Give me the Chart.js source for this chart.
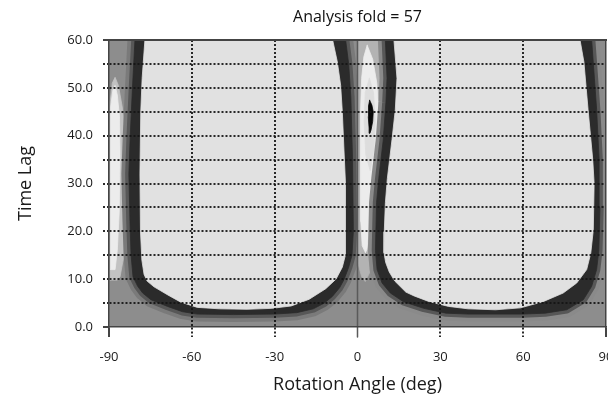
<!DOCTYPE html>
<html>
<head>
<meta charset="utf-8">
<script src="https://cdn.jsdelivr.net/npm/chart.js@4.4.1/dist/chart.umd.min.js"></script>
<style>
  html, body { margin: 0; padding: 0; background: #fff; }
</style>
</head>
<body>
<canvas id="myChart" width="608" height="398"></canvas>
<script>
// axis ticks
const xTicks = [-90, -60, -30, 0, 30, 60, 90];
const yTicks = [0, 5, 10, 15, 20, 25, 30, 35, 40, 45, 50, 55, 60];
const yTickLabels = ['0.0', '', '10.0', '', '20.0', '', '30.0', '', '40.0', '', '50.0', '', '60.0'];

// contour regions, [angle, lag] pairs
const baseField = [[-95, -5], [95, -5], [95, 65], [-95, 65], [-95, -5]];

const leftPatch = [[-89.6, 9.8], [-89.6, 47], [-88.8, 51], [-87.8, 52.2], [-86.6, 50.5], [-85.2, 46], [-84, 40],
  [-83.2, 32], [-83, 24], [-83, 18], [-84.4, 15.5], [-86, 10.5], [-87, 9.8], [-89.6, 9.8]];
const leftCore = [[-89.4, 12], [-89.4, 46], [-88.6, 49.5], [-87.8, 50.5], [-87, 48.5], [-86.2, 44], [-86, 36],
  [-86.3, 24], [-87, 16], [-87.8, 12], [-89.4, 12]];

const leftBasinDark = [[-80.6, 64], [-80.6, 60], [-81.5, 50], [-82.3, 40], [-82.8, 32], [-82.4, 22], [-82, 15],
  [-81.3, 10.5], [-79.6, 8.5], [-77.8, 7.1], [-74.8, 5.7], [-68.8, 4.3], [-63.4, 3.2], [-58, 2.7], [-45, 2.6],
  [-30, 2.7], [-22, 3.0], [-16, 3.8], [-12, 5.0], [-9.1, 6.4], [-6.5, 8.2], [-4.9, 9.9], [-3.2, 12.5], [-2.0, 15],
  [-1.5, 20], [-1.8, 35], [-2.4, 48], [-3.2, 55], [-4.3, 60], [-4.6, 64], [-80.6, 64]];
const leftBasin = [[-77, 64], [-77, 60], [-78, 52], [-78.5, 45], [-78.8, 32], [-78.6, 20], [-78.1, 14], [-77.3, 11],
  [-76.2, 9.6], [-73.7, 8.4], [-68.7, 6.7], [-64, 5.2], [-58, 4.1], [-50, 3.8], [-40, 3.7], [-31, 3.9], [-24, 4.4],
  [-17.5, 5.8], [-11.5, 8], [-7.8, 10], [-5.5, 12.5], [-4.4, 15], [-4.2, 20], [-4.5, 30], [-4.9, 37], [-5.5, 45],
  [-6.1, 50.5], [-7.3, 55.4], [-9, 60], [-9.5, 64], [-77, 64]];

const midPatch = [[0.3, 64], [0.3, 13], [1.5, 10.5], [2.8, 9.5], [4.5, 11.5], [6, 16], [7.5, 25], [9, 35],
  [10, 45], [10, 64], [0.3, 64]];
const midCore = [[3.5, 58.9], [5.5, 56], [7, 51], [7.6, 46], [7.4, 40], [6.5, 32.7], [5.2, 26], [4.1, 20],
  [3.4, 16.2], [2.9, 15.5], [1.7, 17], [1.2, 22], [1.1, 32], [1.1, 45], [1.5, 52], [2.3, 56.5], [3.5, 58.9]];
const midInner = [[4.3, 52], [5.8, 49], [6.4, 43], [6.0, 37], [4.6, 32.7], [3.0, 36], [2.4, 43], [2.8, 49], [4.3, 52]];
const blackSpot = [[4.4, 47.4], [5.2, 46.4], [5.7, 45], [5.5, 43], [4.9, 41.2], [4.5, 40.5], [4.2, 41.6], [3.9, 44],
  [4.0, 46.2], [4.4, 47.4]];

const rightBasinDark = [[10.1, 64], [10.1, 60], [10.7, 52], [10.3, 47], [9.3, 39], [7.7, 31], [6.9, 26], [6.5, 16],
  [7.1, 12], [8.9, 9.2], [11.9, 7.1], [16.6, 5.3], [24, 3.9], [32, 2.9], [40, 2.7], [60, 2.7], [68, 2.9],
  [75.8, 3.6], [81.8, 5.7], [84.8, 8.5], [86.6, 12], [87.4, 16], [87.8, 25], [87.5, 35], [86.6, 45.5],
  [85.8, 52], [84.8, 60], [84.6, 64], [10.1, 64]];
const rightBasin = [[13.2, 64], [13.2, 60], [14.3, 52], [13.7, 45.5], [12.5, 39.2], [10.8, 31], [10.1, 26],
  [9.7, 20], [9.6, 15.5], [10.2, 13.5], [11.5, 11.5], [13.5, 9.6], [17.5, 7.3], [20.5, 6.5], [26, 5.3], [33, 4.3],
  [40, 3.8], [50, 3.6], [59, 4.0], [67.2, 5.3], [74.5, 7.1], [79.4, 9.2], [83, 12], [84.5, 15.5], [85.4, 20.3],
  [85.7, 30], [85.2, 35], [83.5, 45.5], [82, 55.4], [80.6, 60], [80.3, 64], [13.2, 64]];

const zeroLine = [[0, -2.1], [0, 60]];

const fontFamily = "'Open Sans', 'DejaVu Sans', sans-serif";
const dotColor = 'rgba(20,20,20,0.9)';

function poly(points, opts) {
  return Object.assign({
    data: points.map(p => ({ x: p[0], y: p[1] })),
    pointRadius: 0,
    tension: 0,
    clip: 0,
    fill: false,
    borderJoinStyle: 'round',
    borderCapStyle: 'round'
  }, opts);
}
function area(points, color) {
  return poly(points, { fill: 'shape', backgroundColor: color, borderColor: color, borderWidth: 0.8 });
}
function band(points, color, w) {
  return poly(points, { borderColor: color, borderWidth: w });
}

// bottom to top
let layers = [
  area(baseField, '#8d8d8d'),
  area(leftPatch, '#c2c2c2'),
  area(leftCore, '#ececec'),
  band(leftBasinDark, '#7a7a7a', 15),
  band(leftBasinDark, '#575757', 7.5),
  area(leftBasinDark, '#2b2b2b'),
  area(leftBasin, '#e1e1e1'),
  area(midPatch, '#b3b3b3'),
  area(midCore, '#ececec'),
  area(midInner, '#dddddd'),
  band(rightBasinDark, '#8a8a8a', 15),
  band(rightBasinDark, '#575757', 7.5),
  area(rightBasinDark, '#2b2b2b'),
  area(rightBasin, '#e1e1e1'),
  area(blackSpot, '#080808'),
  poly(zeroLine, { borderColor: '#5a5a5a', borderWidth: 1.5, clip: { left: 0, top: 0, right: 0, bottom: 12 } })
];
layers.forEach((d, i) => { d.order = layers.length - i; });

const isEdgeX = c => c.tick && (c.tick.value === -90 || c.tick.value === 90);
const isZeroX = c => c.tick && c.tick.value === 0;
const isEdgeY = c => c.tick && (c.tick.value === 0 || c.tick.value === 60);

let ctx = document.getElementById('myChart').getContext('2d');
let myChart = new Chart(ctx, {
  type: 'line',
  data: { datasets: layers },
  options: {
    responsive: false,
    animation: false,
    events: [],
    layout: { padding: { top: 0, right: 2, bottom: 0, left: 0 } },
    plugins: {
      legend: { display: false },
      tooltip: { enabled: false },
      title: {
        display: true,
        text: 'Analysis fold = 57',
        fullSize: false,
        color: '#111',
        font: { family: fontFamily, size: 16, weight: 'normal' },
        padding: { top: 8, bottom: 12.8 }
      }
    },
    scales: {
      x: {
        type: 'linear', min: -90, max: 90,
        afterBuildTicks: s => { s.ticks = xTicks.map(v => ({ value: v })); },
        afterFit: s => { s.paddingLeft = 0; s.paddingRight = 0; s.height = 71; },
        ticks: { autoSkip: false, maxRotation: 0, padding: 12, color: '#1a1a1a',
          font: { family: fontFamily, size: 13 }, callback: v => String(v) },
        grid: {
          z: 1, lineWidth: 2, tickLength: 10, tickWidth: 2,
          color: c => (isEdgeX(c) || isZeroX(c)) ? 'rgba(0,0,0,0)' : dotColor,
          tickColor: c => isZeroX(c) ? 'rgba(0,0,0,0)' : (isEdgeX(c) ? '#444' : dotColor),
          tickBorderDash: c => isEdgeX(c) ? [] : [2, 2]
        },
        border: { display: true, color: '#444', width: 1.5, dash: [2, 2], z: 2 },
        title: { display: true, text: 'Rotation Angle (deg)', color: '#1a1a1a',
          font: { family: fontFamily, size: 18 }, padding: { top: 0, bottom: 2 } }
      },
      y: {
        type: 'linear', min: 0, max: 60,
        afterBuildTicks: s => { s.ticks = yTicks.map(v => ({ value: v })); },
        afterFit: s => { s.width = 109; },
        ticks: { autoSkip: false, padding: 10, color: '#1a1a1a',
          font: { family: fontFamily, size: 13 }, callback: (v, i) => yTickLabels[i] },
        grid: {
          z: 1, lineWidth: 2, tickLength: 6, tickWidth: 2,
          color: c => isEdgeY(c) ? 'rgba(0,0,0,0)' : dotColor,
          tickColor: c => isEdgeY(c) ? '#444' : dotColor,
          tickBorderDash: c => isEdgeY(c) ? [] : [2, 2]
        },
        border: { display: true, color: '#444', width: 1.5, dash: [2, 2], z: 2 },
        title: { display: true, text: 'Time Lag', color: '#1a1a1a',
          font: { family: fontFamily, size: 18 }, padding: { top: 15, bottom: 0 } }
      },
      xTop: {
        type: 'linear', position: 'top', min: -90, max: 90,
        ticks: { display: false },
        grid: { drawOnChartArea: false, drawTicks: false },
        border: { display: true, color: '#444', width: 2, z: 2 }
      },
      yRight: {
        type: 'linear', position: 'right', min: 0, max: 60,
        ticks: { display: false },
        grid: { drawOnChartArea: false, drawTicks: false },
        border: { display: true, color: '#444', width: 1.5, z: 2 }
      }
    }
  }
});
</script>
</body>
</html>
